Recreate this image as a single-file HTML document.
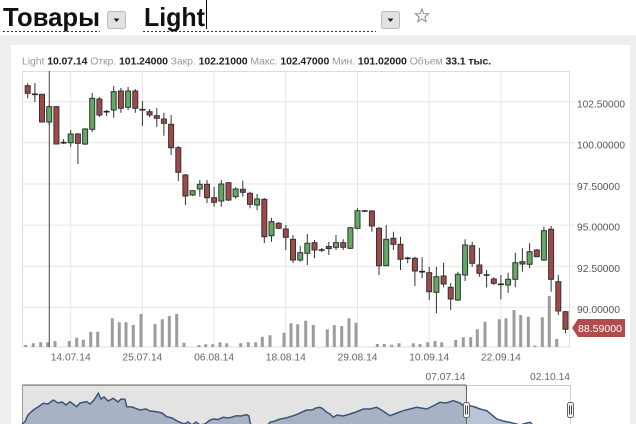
<!DOCTYPE html>
<html>
<head>
<meta charset="utf-8">
<style>
html,body{margin:0;padding:0;background:#fff;width:636px;height:424px;overflow:hidden;}
svg{display:block;}
text{font-family:"Liberation Sans","Noto Sans CJK SC",sans-serif;}
.g{fill:#63a863;stroke:#333;stroke-width:1;}
.r{fill:#9e4a4a;stroke:#333;stroke-width:1;}
.ax{font-size:10.5px;fill:#555;}
.dt{font-size:10.5px;fill:#666;text-anchor:middle;}
</style>
</head>
<body>
<svg width="636" height="424" viewBox="0 0 636 424" xmlns="http://www.w3.org/2000/svg">
<!-- background panels -->
<rect x="0" y="0" width="636" height="424" fill="#fff"/>
<rect x="0" y="35" width="636" height="389" fill="#eeeeee"/>
<rect x="11" y="45" width="619" height="379" fill="#fff"/>

<!-- title -->
<text x="3" y="26" font-size="26" font-weight="bold" fill="#111" textLength="97" lengthAdjust="spacingAndGlyphs">Товары</text>
<rect x="107.5" y="11.5" width="18" height="17" rx="2" fill="#e2e2e2" stroke="#bbb"/>
<path d="M113.5 18.5h6l-3 3.5z" fill="#222"/>
<text x="144" y="26" font-size="26" font-weight="bold" fill="#111" textLength="61" lengthAdjust="spacingAndGlyphs">Light</text>
<line x1="206.5" y1="0" x2="206.5" y2="29" stroke="#000" stroke-width="1"/>
<rect x="381.5" y="11.5" width="18" height="17" rx="2" fill="#e2e2e2" stroke="#bbb"/>
<path d="M387.5 18.5h6l-3 3.5z" fill="#222"/>
<line x1="3" y1="31.5" x2="100" y2="31.5" stroke="#333" stroke-width="1" stroke-dasharray="2,2"/>
<line x1="143" y1="31.5" x2="376" y2="31.5" stroke="#333" stroke-width="1" stroke-dasharray="2,2"/>
<polygon points="422,9 423.76,13.57 428.66,13.84 424.85,16.93 426.11,21.66 422,19 417.89,21.66 419.15,16.93 415.34,13.84 420.24,13.57" fill="none" stroke="#888" stroke-width="1"/>

<!-- info line -->
<text x="22" y="64.5" font-size="10.5" fill="#999" textLength="469" lengthAdjust="spacing">Light <tspan font-weight="bold" fill="#222">10.07.14</tspan> Откр. <tspan font-weight="bold" fill="#222">101.24000</tspan> Закр. <tspan font-weight="bold" fill="#222">102.21000</tspan> Макс. <tspan font-weight="bold" fill="#222">102.47000</tspan> Мин. <tspan font-weight="bold" fill="#222">101.02000</tspan> Объем <tspan font-weight="bold" fill="#222">33.1 тыс.</tspan></text>

<!-- plot frame -->
<rect x="22.5" y="71.5" width="547" height="275.5" fill="#fff" stroke="#ddd"/>
<!-- gridlines -->
<g stroke="#e6e6e6" stroke-width="1">
<line x1="23" y1="101.7" x2="575" y2="101.7"/>
<line x1="23" y1="142.8" x2="575" y2="142.8"/>
<line x1="23" y1="184" x2="575" y2="184"/>
<line x1="23" y1="225.1" x2="575" y2="225.1"/>
<line x1="23" y1="266.2" x2="575" y2="266.2"/>
<line x1="23" y1="307.3" x2="575" y2="307.3"/>
<line x1="70.7" y1="72" x2="70.7" y2="347"/>
<line x1="142.4" y1="72" x2="142.4" y2="347"/>
<line x1="214.1" y1="72" x2="214.1" y2="347"/>
<line x1="285.8" y1="72" x2="285.8" y2="347"/>
<line x1="357.5" y1="72" x2="357.5" y2="347"/>
<line x1="429.2" y1="72" x2="429.2" y2="347"/>
<line x1="500.9" y1="72" x2="500.9" y2="347"/>
</g>

<!-- y axis labels -->
<text class="ax" x="577" y="107.5" textLength="48" lengthAdjust="spacingAndGlyphs">102.50000</text>
<text class="ax" x="577" y="148.5" textLength="48" lengthAdjust="spacingAndGlyphs">100.00000</text>
<text class="ax" x="577" y="190" textLength="43" lengthAdjust="spacingAndGlyphs">97.50000</text>
<text class="ax" x="577" y="230.5" textLength="43" lengthAdjust="spacingAndGlyphs">95.00000</text>
<text class="ax" x="577" y="272" textLength="43" lengthAdjust="spacingAndGlyphs">92.50000</text>
<text class="ax" x="577" y="313" textLength="43" lengthAdjust="spacingAndGlyphs">90.00000</text>

<!-- price label -->
<polygon points="572,328 578,319 625,319 625,337 578,337" fill="#b04c4b"/>
<text x="578" y="332" font-size="10.5" fill="#fff" textLength="44" lengthAdjust="spacingAndGlyphs">88.59000</text>

<!-- volume bars -->
<path stroke="#9c9c9c" stroke-width="3" fill="none" d="M25.7 347V345M33.3 347V343.3M40.7 347V342.3M47.7 347V342.3M55 347V341M69.3 347V341M76.7 347V337.7M83.3 347V339.7M90.7 347V331.7M97.7 347V331.7M112.3 347V318.3M119.3 347V322.3M126 347V322.3M133.3 347V325M141 347V314M155 347V324M162.3 347V319.3M169.3 347V316M176.7 347V314M184 347V342.7M199 347V345M205.7 347V344.3M212.7 347V344.3M220 347V342.3M226.7 347V343.3M240.7 347V343.3M248.3 347V342.3M255.7 347V342.3M262.3 347V336.7M270 347V335.3M284 347V332.7M291 347V323.3M297.7 347V324.3M305.7 347V320.7M313.3 347V325M327.3 347V329.3M334.3 347V325M341.7 347V326M349 347V318.3M356 347V322.7M377.3 347V344M384.3 347V344M391.7 347V344.7M399 347V343.3M413.3 347V343.3M420 347V344M427.7 347V342.3M435 347V341M441.7 347V342.3M455.7 347V340M463.3 347V337.3M470.7 347V337.3M477.3 347V329.3M485 347V321.7M499.3 347V319.3M506 347V318.3M514 347V310M520.7 347V315M528.3 347V316.7M535 347V345.5M542.3 347V317.3M549.3 347V296M556.7 347V339"/>

<!-- crosshair -->
<line x1="49.3" y1="71" x2="49.3" y2="347" stroke="#444" stroke-width="1"/>

<!-- wicks -->
<path stroke="#333" stroke-width="1" fill="none" d="M27.7 83.3V98.3M34.9 83V102M42 94V122M49.2 105V125M56.4 106V144M63.6 139V144M70.7 130V146.7M77.9 133V164M85.1 128V145M92.2 93V132M99.4 97V117M106.6 110V116M113.7 86V117.7M120.9 88V112.7M128.1 87V110M135.3 89V112.7M142.4 101V126M149.6 109V117.3M156.8 108V127M163.9 112.7V135.7M171.1 115V155M178.3 146V181M185.4 174V205M192.6 190V196M199.8 180V196.7M207 180V203M214.1 187V206.7M221.3 180V206.7M228.5 182V201M235.6 187.3V198.7M242.8 180.7V196.7M250 191.7V208.3M257.1 194V210M264.3 198V243M271.5 218V241.7M278.7 222V229M285.8 225V250M293 235V263M300.2 246V261.7M307.3 234V265M314.5 240V258.3M321.7 248V252M328.8 241.7V255M336 235V250M343.2 239.3V250M350.4 227V249M357.5 208.3V229.3M364.7 210V212M371.9 210V231.7M379 226.7V275M386.2 225V266M393.4 231.7V250M400.5 236.7V270M407.7 256.7V263.3M414.9 256.7V286M422.1 257.3V278.3M429.2 266.7V300M436.4 266.7V313.3M443.6 262.7V287.3M450.7 283.3V310M457.9 271.7V301M465.1 239.3V281M472.2 241.7V266.7M479.4 247.7V276.7M486.6 270V287.3M493.8 277.3V285M500.9 275V299.3M508.1 272.7V292.7M515.3 252.7V287.3M522.4 248.3V271.7M529.6 243.3V268.3M536.8 249V257.3M543.9 226.7V261M551.1 226V291.7M558.3 275V315M565.5 311V333.3"/>

<!-- dojis -->
<path stroke="#222" stroke-width="1.6" fill="none" d="M31.9 94.3h6M60.6 142.7h6M103.6 111.7h6M139.4 109.7h6M318.7 250h6M361.7 211h6M404.7 258.3h6M419.1 271.7h6M483.6 275h6M497.9 284.3h6"/>

<!-- bodies -->
<g>
<rect class="r" x="25.2" y="85.7" width="5" height="7.6"/>
<rect class="r" x="39.5" y="94.3" width="5" height="27.7"/>
<rect class="g" x="46.7" y="106.7" width="5" height="15.3"/>
<rect class="r" x="53.9" y="106.7" width="5" height="37.3"/>
<rect class="g" x="68.2" y="134" width="5" height="8.7"/>
<rect class="r" x="75.4" y="134" width="5" height="9.3"/>
<rect class="g" x="82.6" y="129" width="5" height="15"/>
<rect class="g" x="89.7" y="98.3" width="5" height="31"/>
<rect class="r" x="96.9" y="99" width="5" height="16"/>
<rect class="g" x="111.2" y="91.7" width="5" height="18.3"/>
<rect class="r" x="118.4" y="91" width="5" height="17.3"/>
<rect class="g" x="125.6" y="91" width="5" height="16.3"/>
<rect class="r" x="132.8" y="91" width="5" height="17.3"/>
<rect class="r" x="147.1" y="111.7" width="5" height="3.3"/>
<rect class="r" x="154.3" y="115.7" width="5" height="2.6"/>
<rect class="r" x="161.4" y="119" width="5" height="4.3"/>
<rect class="r" x="168.6" y="124.3" width="5" height="23.4"/>
<rect class="r" x="175.8" y="147.7" width="5" height="24.6"/>
<rect class="r" x="182.9" y="175" width="5" height="21"/>
<rect class="g" x="190.1" y="190.7" width="5" height="4.3"/>
<rect class="g" x="197.3" y="184.3" width="5" height="4.7"/>
<rect class="r" x="204.5" y="184.3" width="5" height="13.4"/>
<rect class="r" x="211.6" y="197.7" width="5" height="4.6"/>
<rect class="g" x="218.8" y="184" width="5" height="17"/>
<rect class="r" x="226" y="182.7" width="5" height="17.3"/>
<rect class="g" x="233.1" y="189" width="5" height="7.7"/>
<rect class="r" x="240.3" y="189.3" width="5" height="3"/>
<rect class="r" x="247.5" y="193.3" width="5" height="11"/>
<rect class="g" x="254.6" y="199" width="5" height="6"/>
<rect class="r" x="261.8" y="199.3" width="5" height="37.4"/>
<rect class="g" x="269" y="221.7" width="5" height="14"/>
<rect class="r" x="276.2" y="223.3" width="5" height="5"/>
<rect class="r" x="283.3" y="229" width="5" height="8.3"/>
<rect class="r" x="290.5" y="239.3" width="5" height="20.7"/>
<rect class="g" x="297.7" y="252.7" width="5" height="7.3"/>
<rect class="g" x="304.8" y="243.3" width="5" height="10"/>
<rect class="r" x="312" y="242.7" width="5" height="7.3"/>
<rect class="r" x="326.3" y="246.5" width="5" height="2"/>
<rect class="g" x="333.5" y="242.7" width="5" height="4.6"/>
<rect class="r" x="340.7" y="242.7" width="5" height="4.6"/>
<rect class="g" x="347.9" y="227.7" width="5" height="20.6"/>
<rect class="g" x="355" y="210.7" width="5" height="17.6"/>
<rect class="r" x="369.4" y="211" width="5" height="15"/>
<rect class="r" x="376.5" y="228.3" width="5" height="37.4"/>
<rect class="g" x="383.7" y="239.3" width="5" height="26.4"/>
<rect class="r" x="390.9" y="238.3" width="5" height="6"/>
<rect class="r" x="398" y="244.3" width="5" height="15"/>
<rect class="r" x="412.4" y="258.3" width="5" height="12.7"/>
<rect class="r" x="426.7" y="272.7" width="5" height="19"/>
<rect class="g" x="433.9" y="276.7" width="5" height="15.6"/>
<rect class="r" x="441.1" y="276" width="5" height="8"/>
<rect class="r" x="448.2" y="287.3" width="5" height="11.7"/>
<rect class="g" x="455.4" y="274.3" width="5" height="25.7"/>
<rect class="g" x="462.6" y="245" width="5" height="30"/>
<rect class="r" x="469.7" y="245.7" width="5" height="17.6"/>
<rect class="r" x="476.9" y="265" width="5" height="8.3"/>
<rect class="r" x="491.3" y="279" width="5" height="4.3"/>
<rect class="g" x="505.6" y="279.3" width="5" height="5.7"/>
<rect class="g" x="512.8" y="262.7" width="5" height="16.6"/>
<rect class="r" x="519.9" y="261.7" width="5" height="2.3"/>
<rect class="g" x="527.1" y="251.7" width="5" height="12.6"/>
<rect class="r" x="534.3" y="250" width="5" height="6.7"/>
<rect class="g" x="541.4" y="230.7" width="5" height="29.3"/>
<rect class="r" x="548.6" y="229.3" width="5" height="50"/>
<rect class="r" x="555.8" y="281.7" width="5" height="29.3"/>
<rect class="r" x="563" y="311.7" width="5" height="17.6"/>
</g>

<!-- date labels -->
<text class="dt" x="70.7" y="360.5" textLength="40" lengthAdjust="spacingAndGlyphs">14.07.14</text>
<text class="dt" x="142.4" y="360.5" textLength="40" lengthAdjust="spacingAndGlyphs">25.07.14</text>
<text class="dt" x="214.1" y="360.5" textLength="40" lengthAdjust="spacingAndGlyphs">06.08.14</text>
<text class="dt" x="285.8" y="360.5" textLength="40" lengthAdjust="spacingAndGlyphs">18.08.14</text>
<text class="dt" x="357.5" y="360.5" textLength="40" lengthAdjust="spacingAndGlyphs">29.08.14</text>
<text class="dt" x="429.2" y="360.5" textLength="40" lengthAdjust="spacingAndGlyphs">10.09.14</text>
<text class="dt" x="500.9" y="360.5" textLength="40" lengthAdjust="spacingAndGlyphs">22.09.14</text>

<!-- navigator -->
<text class="dt" x="445.5" y="380" textLength="40" lengthAdjust="spacingAndGlyphs">07.07.14</text>
<text class="dt" x="550" y="380" textLength="40" lengthAdjust="spacingAndGlyphs">02.10.14</text>
<rect x="22.5" y="385.5" width="444" height="40" fill="#e3e3e3" stroke="#999"/>
<rect x="466.5" y="385.5" width="104" height="40" fill="#fff" stroke="#ccc"/>
<path fill="rgba(60,95,145,0.36)" stroke="none" d="M22 430 L22 424 L25 421.7 L28 415 L33.3 410 L38 407 L43.3 403.3 L48 404 L53.3 400 L58 403 L62 402 L66 405 L70 401.7 L73 404 L76.7 406.7 L80 403 L86.7 401.7 L90 404 L94 400 L98.3 393.3 L101 399 L104 397 L108 401 L113.3 398.3 L118 402 L121 399 L125 399.3 L126.7 406.7 L132 407 L140 410 L146 409 L150 411 L156.7 411.7 L162 413 L166.7 416.7 L172 418 L178 421.5 L184 424 L188 422 L192 425 L196 422 L200 425 L205 424 L210 420 L213.3 419 L218 419.5 L223 417.3 L229 418 L236.7 415.7 L241 416 L246.7 414.7 L249 416 L250 422.3 L252 427 L266 427 L270 422.3 L275 421 L280 419 L286 418 L293.3 415.7 L298 414 L302 412 L306.7 410 L312 410 L316 408 L320 407.3 L323 409 L326.7 412.3 L330 414 L333.3 417.3 L337 415 L343 416 L350 414 L356 412 L363.3 409 L370 409 L376.7 407.3 L383 411 L390 415.7 L397 413 L403.3 410.7 L410 409 L416.7 407.3 L421 408 L426.7 409 L433 406 L440 402.3 L446 403 L453.3 400.7 L460 403 L463.3 405.7 L466 404 L470 405.7 L475 407 L480 409 L486.7 410.7 L492 415 L496.7 419 L503 421 L510 422.3 L520 425 L527 423 L530 422.3 L535 427 L570 427 L570 430 Z"/>
<path fill="none" stroke="#3b5577" stroke-width="1.5" d="M22 424 L25 421.7 L28 415 L33.3 410 L38 407 L43.3 403.3 L48 404 L53.3 400 L58 403 L62 402 L66 405 L70 401.7 L73 404 L76.7 406.7 L80 403 L86.7 401.7 L90 404 L94 400 L98.3 393.3 L101 399 L104 397 L108 401 L113.3 398.3 L118 402 L121 399 L125 399.3 L126.7 406.7 L132 407 L140 410 L146 409 L150 411 L156.7 411.7 L162 413 L166.7 416.7 L172 418 L178 421.5 L184 424 L188 422 L192 425 L196 422 L200 425 L205 424 L210 420 L213.3 419 L218 419.5 L223 417.3 L229 418 L236.7 415.7 L241 416 L246.7 414.7 L249 416 L250 422.3 L252 427 M266 427 L270 422.3 L275 421 L280 419 L286 418 L293.3 415.7 L298 414 L302 412 L306.7 410 L312 410 L316 408 L320 407.3 L323 409 L326.7 412.3 L330 414 L333.3 417.3 L337 415 L343 416 L350 414 L356 412 L363.3 409 L370 409 L376.7 407.3 L383 411 L390 415.7 L397 413 L403.3 410.7 L410 409 L416.7 407.3 L421 408 L426.7 409 L433 406 L440 402.3 L446 403 L453.3 400.7 L460 403 L463.3 405.7 L466 404 L470 405.7 L475 407 L480 409 L486.7 410.7 L492 415 L496.7 419 L503 421 L510 422.3 L520 425 L527 423 L530 422.3 L535 427"/>
<line x1="466.5" y1="385" x2="466.5" y2="424" stroke="#666" stroke-width="1"/>
<line x1="22.5" y1="385" x2="466.5" y2="385" stroke="#999" stroke-width="1.5"/>
<!-- handles -->
<rect x="463.5" y="402.5" width="6" height="15" rx="2" fill="#f6f6f6" stroke="#666"/>
<path d="M465.5 405.5v9M467.5 405.5v9" stroke="#444" stroke-width="1"/>
<rect x="567.5" y="402.5" width="6" height="15" rx="2" fill="#f6f6f6" stroke="#666"/>
<path d="M569.5 405.5v9M571.5 405.5v9" stroke="#444" stroke-width="1"/>
</svg>
</body>
</html>
